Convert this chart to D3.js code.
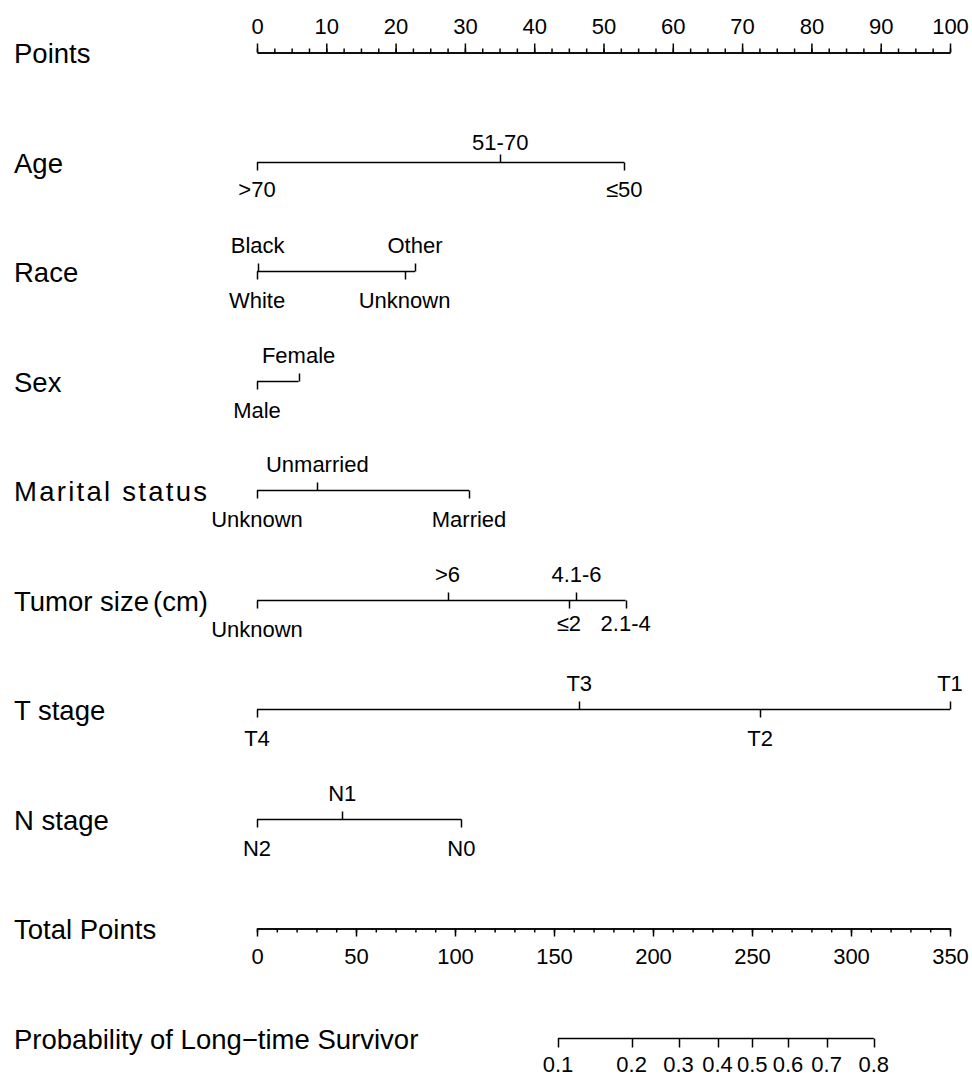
<!DOCTYPE html>
<html>
<head>
<meta charset="utf-8">
<script src="https://cdn.jsdelivr.net/npm/d3@7/dist/d3.min.js"></script>
<style>
  html, body { margin: 0; padding: 0; background: #fff; }
  svg { display: block; }
  text { font-family: "Liberation Sans", Arial, Helvetica, sans-serif; fill: #000; }
</style>
</head>
<body>
<svg id="chart" width="972" height="1076"></svg>
<script>
// ---- Nomogram data -------------------------------------------------------
const pointsTicks = [0, 10, 20, 30, 40, 50, 60, 70, 80, 90, 100];
const totalTicks  = [0, 50, 100, 150, 200, 250, 300, 350];
const probTicks   = [0.1, 0.2, 0.3, 0.4, 0.5, 0.6, 0.7, 0.8];
// total points at which each probability is reached
const probAtTotal = [152.0, 189.2, 212.9, 232.6, 250.1, 268.2, 287.7, 311.5];

const ageLevels     = [">70", "51-70", "≤50"];
const agePoints     = [0, 35.1, 53.0];
const raceLevels    = ["White", "Black", "Unknown", "Other"];
const racePoints    = [0, 0.1, 21.3, 22.8];
const sexLevels     = ["Male", "Female"];
const sexPoints     = [0, 6.0];
const maritalLevels = ["Unknown", "Unmarried", "Married"];
const maritalPoints = [0, 8.7, 30.6];
const tumorLevels   = ["Unknown", ">6", "≤2", "4.1-6", "2.1-4"];
const tumorPoints   = [0, 27.5, 45.0, 46.1, 53.2];
const tLevels       = ["T4", "T3", "T2", "T1"];
const tPoints       = [0, 46.5, 72.6, 100];
const nLevels       = ["N2", "N1", "N0"];
const nPoints       = [0, 12.3, 29.5];

const variables = [
  { name: "Age",            levels: ageLevels,     points: agePoints },
  { name: "Race",           levels: raceLevels,    points: racePoints },
  { name: "Sex",            levels: sexLevels,     points: sexPoints },
  { name: "Marital status", levels: maritalLevels, points: maritalPoints },
  { name: "Tumor size",     levels: tumorLevels,   points: tumorPoints, unit: "(cm)" },
  { name: "T stage",        levels: tLevels,       points: tPoints },
  { name: "N stage",        levels: nLevels,       points: nPoints }
];

// ---- Layout --------------------------------------------------------------
const svg = d3.select("#chart");
const x0 = 257, x1 = 950;
const rowTop = 52, rowStep = 109.5;
const rowY = i => Math.round(rowTop + i * rowStep) + 0.5;
const titleX = 14;
const titleSize = 27.5;
const lineW = 1.5;

const xPoints = d3.scaleLinear().domain([0, 100]).range([x0, x1]);
const xTotal  = d3.scaleLinear().domain([0, 350]).range([x0, x1]);

// small per-label vertical nudges for crowded rows
const labelNudge = { "Age|51-70": 6, "Age|>70": -2, "Age|≤50": -2,
                     "Tumor size|≤2": -6, "Tumor size|2.1-4": -6 };
// titles set with wider tracking
const titleLength = { "Marital status": 193 };

function rowTitle(y, txt, unit) {
  const t = svg.append("text")
    .attr("x", titleX).attr("y", y + 10)
    .attr("font-size", titleSize)
    .text(txt);
  if (titleLength[txt]) t.attr("textLength", titleLength[txt]).attr("lengthAdjust", "spacing");
  if (unit) t.append("tspan").attr("dx", 4).text(unit);
}

function styleAxis(g) {
  g.selectAll("path.domain").attr("stroke", "#000").attr("stroke-width", lineW);
  g.selectAll(".tick line").attr("stroke", "#000").attr("stroke-width", lineW);
  g.selectAll(".tick text").attr("font-size", 22)
    .attr("font-family", "Liberation Sans, Arial, sans-serif").attr("fill", "#000");
}

// ---- Points scale (top) --------------------------------------------------
{
  const y = rowY(0);
  rowTitle(y, "Points");
  const minor = svg.append("g").attr("transform", `translate(0,${y})`)
    .call(d3.axisTop(xPoints).tickValues(d3.range(0, 100.01, 2.5))
      .tickSize(4).tickSizeOuter(0).tickFormat(""));
  styleAxis(minor);
  const major = svg.append("g").attr("transform", `translate(0,${y})`)
    .call(d3.axisTop(xPoints).tickValues(pointsTicks)
      .tickSize(9).tickSizeOuter(0).tickPadding(10).tickFormat(d3.format("d")));
  styleAxis(major);
}

// ---- Predictor rows ------------------------------------------------------
variables.forEach((v, i) => {
  const y = rowY(i + 1);
  rowTitle(y, v.name, v.unit);
  const items = v.levels.map((lab, k) => ({ lab, pts: v.points[k] }))
    .sort((a, b) => a.pts - b.pts);
  // labels alternate below / above along the axis
  items.forEach((d, k) => { d.above = k % 2 === 1; });
  const g = svg.append("g");
  const ext = d3.extent(items, d => d.pts);
  g.append("line")
    .attr("x1", xPoints(ext[0])).attr("x2", xPoints(ext[1]))
    .attr("y1", y).attr("y2", y)
    .attr("stroke", "#000").attr("stroke-width", lineW);
  g.selectAll("line.tk").data(items).join("line").attr("class", "tk")
    .attr("x1", d => Math.round(xPoints(d.pts)) + 0.5)
    .attr("x2", d => Math.round(xPoints(d.pts)) + 0.5)
    .attr("y1", y)
    .attr("y2", d => d.above ? y - 8 : y + 8)
    .attr("stroke", "#000").attr("stroke-width", lineW);
  g.selectAll("text.lv").data(items).join("text").attr("class", "lv")
    .attr("x", d => xPoints(d.pts))
    .attr("y", d => (d.above ? y - 19 : y + 36) + (labelNudge[v.name + "|" + d.lab] || 0))
    .attr("text-anchor", "middle")
    .attr("font-size", 22)
    .text(d => d.lab);
});

// ---- Total points --------------------------------------------------------
{
  const y = rowY(8);
  rowTitle(y, "Total Points");
  const minor = svg.append("g").attr("transform", `translate(0,${y})`)
    .call(d3.axisBottom(xTotal).tickValues(d3.range(0, 351, 10))
      .tickSize(4).tickSizeOuter(0).tickFormat(""));
  styleAxis(minor);
  const major = svg.append("g").attr("transform", `translate(0,${y})`)
    .call(d3.axisBottom(xTotal).tickValues(totalTicks)
      .tickSize(8).tickSizeOuter(0).tickPadding(12).tickFormat(d3.format("d")));
  styleAxis(major);
}

// ---- Probability scale ---------------------------------------------------
{
  const y = rowY(9);
  rowTitle(y, "Probability of Long\u2212time Survivor");
  const probData = probTicks.map((p, k) => ({ p, tp: probAtTotal[k] }));
  const g = svg.append("g");
  g.append("line")
    .attr("x1", xTotal(probAtTotal[0])).attr("x2", xTotal(probAtTotal[probAtTotal.length - 1]))
    .attr("y1", y).attr("y2", y)
    .attr("stroke", "#000").attr("stroke-width", lineW);
  g.selectAll("line.tk").data(probData).join("line").attr("class", "tk")
    .attr("x1", d => Math.round(xTotal(d.tp)) + 0.5)
    .attr("x2", d => Math.round(xTotal(d.tp)) + 0.5)
    .attr("y1", y).attr("y2", y + 9)
    .attr("stroke", "#000").attr("stroke-width", lineW);
  g.selectAll("text.pl").data(probData).join("text").attr("class", "pl")
    .attr("x", d => xTotal(d.tp))
    .attr("y", y + 33)
    .attr("text-anchor", "middle")
    .attr("font-size", 22)
    .text(d => d.p.toFixed(1));
}
</script>
</body>
</html>
